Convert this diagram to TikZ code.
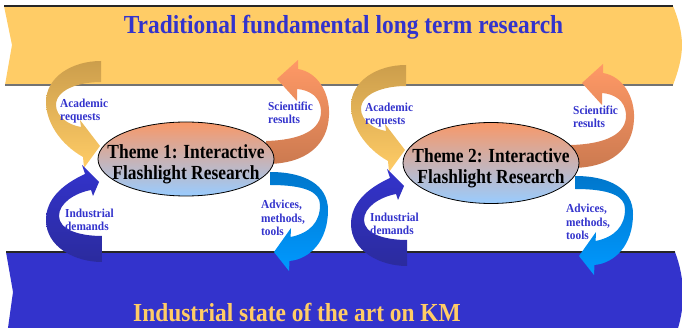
\documentclass[tikz,border=0pt]{standalone}
\usepackage{fontspec}
\setmainfont{Liberation Serif}
\usetikzlibrary{shapes.geometric}
\definecolor{bandyellow}{HTML}{FFCC66}
\definecolor{bandblue}{HTML}{3333CC}
\definecolor{acadtop}{HTML}{CC9E4C}
\definecolor{scitop}{HTML}{FF9966}
\definecolor{scibot}{HTML}{CC7A50}
\definecolor{indbot}{HTML}{2B2B9E}
\definecolor{advtop}{HTML}{0077CC}
\definecolor{advbot}{HTML}{0099FF}
\definecolor{ellipsetop}{HTML}{F89868}
\definecolor{ellipsebot}{HTML}{99CCFF}

\tikzset{
  bandtext/.style={font=\bfseries\fontsize{26}{28}\selectfont, xscale=0.9, inner sep=0pt, anchor=base},
  themebox/.style={ellipse, draw=black, line width=0.8pt, top color=ellipsetop, bottom color=ellipsebot, inner sep=0pt, minimum width=176pt},
  themetext/.style={font=\bfseries\fontsize{20}{21}\selectfont, align=center, xscale=0.87, inner sep=0pt},
  looptext/.style={font=\bfseries\fontsize{12.2}{13.5}\selectfont, text=bandblue, align=left, anchor=west, inner sep=0pt, xscale=0.93}
}

\begin{document}
\begin{tikzpicture}[x=1pt,y=-1pt]
    \useasboundingbox (0,0) rectangle (682,328);
    \clip (0,0) rectangle (682,328);
    % the two bands
    \fill[bandyellow] (4,6) -- (673,6) .. controls (678,18) and (682,32) .. (682,45) .. controls (682,58) and (678,72) .. (673,85) -- (5,85) -- (12,45) -- cycle;
    \draw[line width=1.5pt, black!85] (4,6) -- (673,6);
    \draw[line width=1.2pt, black!55] (5,85) -- (673,85);
    \fill[bandblue] (6,252) -- (675,252) .. controls (680,265) and (683,280) .. (683,295) .. controls (683,310) and (680,322) .. (676,335) -- (7,335) -- (13,292) -- cycle;
    \draw[line width=1.5pt, black!85] (6,252) -- (675,252);
    \node[bandtext, text=bandblue] (research) at (343.5,34) {Traditional fundamental long term research};
    \node[bandtext, text=bandyellow] (industry) at (297,321) {Industrial state of the art on KM};
    % one theme with its four loops
    \foreach \n/\dx/\dy/\eh in {1/0/0/74, 2/305/4/81} {
    \begin{scope}[shift={(\dx,\dy)}]
        \path[top color=acadtop, bottom color=bandyellow] (101,61) -- (101,82) .. controls (78,82) and (56,90) .. (56,105) .. controls (56,116) and (68,125) .. (81,127) -- (80,120) -- (100,146) -- (84,168) -- (83,157) .. controls (60,144) and (46,122) .. (46,102) .. controls (46,77) and (72,61) .. (101,61) -- cycle;
        \path[top color=scitop, bottom color=scibot] (266,141) .. controls (301,140) and (322,130) .. (321,110) .. controls (320,97) and (310,90) .. (297,89) -- (297,101) -- (277,79) -- (298,60) -- (298,69) .. controls (317,72) and (330,92) .. (329,115) .. controls (328,145) and (306,164) .. (266,164) -- cycle;
        \path[top color=bandblue, bottom color=indbot] (102,262) -- (102,236) .. controls (78,236) and (59,229) .. (59,216) .. controls (59,203) and (75,193) .. (91,190) -- (93,196) -- (99,182) -- (82,165) -- (85,174) .. controls (61,185) and (46,200) .. (46,220) .. controls (46,247) and (75,262) .. (102,262) -- cycle;
        \path[top color=advtop, bottom color=advbot] (270,172) .. controls (305,172) and (328,185) .. (328,210) .. controls (328,241) and (310,259) .. (289.5,261) -- (289,271) -- (274,252) -- (291,228) -- (290.6,237) .. controls (310,233) and (320,222) .. (320,205) .. controls (320,192) and (305,185) .. (270,185) -- cycle;
        \node[themebox, minimum height=\eh pt] (theme\n) at (186,159) {};
        \node[themetext] (themename\n) at (186,164) {Theme \n: Interactive\\Flashlight Research};
        \node[looptext] (acad\n) at (60,111) {Academic\\requests};
        \node[looptext] (sci\n) at (268,113) {Scientific\\results};
        \node[looptext] (ind\n) at (65,220) {Industrial\\demands};
        \node[looptext] (adv\n) at (261,218) {Advices,\\methods,\\tools};
    \end{scope}
    }
\end{tikzpicture}
\end{document}
